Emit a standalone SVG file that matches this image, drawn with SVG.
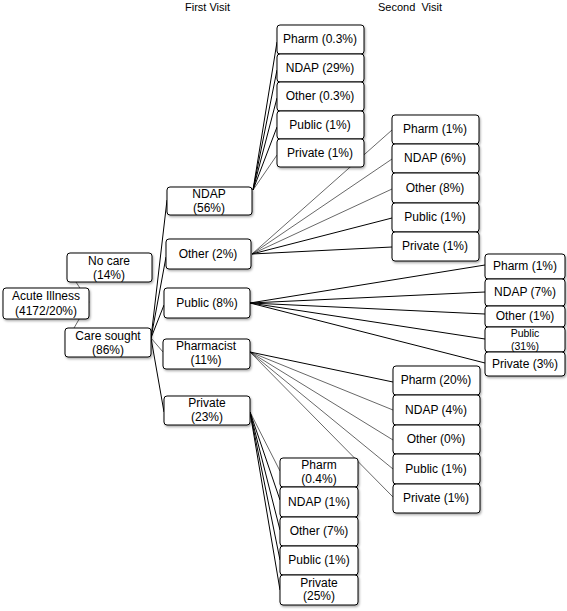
<svg xmlns="http://www.w3.org/2000/svg" width="567" height="611" viewBox="0 0 567 611">
<defs>
<filter id="sh" x="-10%" y="-10%" width="130%" height="140%">
<feDropShadow dx="1" dy="1.5" stdDeviation="1" flood-color="#000" flood-opacity="0.35"/>
</filter>
</defs>
<style>
rect{fill:#fff;stroke:#000;stroke-width:1;filter:url(#sh)}
text{font-family:"Liberation Sans",Arial,sans-serif;font-size:12px;fill:#000;text-anchor:middle}
.h{font-size:11px;text-anchor:start}
.s{font-size:10.5px}
#conn line{stroke:#000;stroke-width:1}
#conn .t{stroke-width:0.6}
</style>
<rect width="567" height="611" style="fill:#fff;stroke:none;filter:none"/>
<text class="h" x="185" y="11">First Visit</text>
<text class="h" x="378" y="11" xml:space="preserve">Second  Visit</text>
<g id="conn">
<line x1="76" y1="282" x2="89" y2="302" class="t"/>
<line x1="89" y1="302" x2="74" y2="328" class="t"/>
<line x1="151" y1="338" x2="167" y2="200"/>
<line x1="151" y1="338" x2="166" y2="257"/>
<line x1="151" y1="338" x2="164" y2="305"/>
<line x1="151" y1="338" x2="163" y2="352" class="t"/>
<line x1="151" y1="338" x2="164" y2="412"/>
<line x1="253" y1="190" x2="277" y2="42"/>
<line x1="253" y1="190" x2="277" y2="70"/>
<line x1="253" y1="190" x2="277" y2="98"/>
<line x1="253" y1="190" x2="277" y2="127"/>
<line x1="253" y1="190" x2="277" y2="155" class="t"/>
<line x1="252" y1="254" x2="392" y2="130" class="t"/>
<line x1="252" y1="254" x2="392" y2="159" class="t"/>
<line x1="252" y1="254" x2="392" y2="189" class="t"/>
<line x1="252" y1="254" x2="392" y2="218"/>
<line x1="252" y1="254" x2="392" y2="247"/>
<line x1="250" y1="303" x2="485" y2="265"/>
<line x1="250" y1="303" x2="485" y2="292"/>
<line x1="250" y1="303" x2="485" y2="314"/>
<line x1="250" y1="303" x2="485" y2="339"/>
<line x1="250" y1="303" x2="485" y2="363"/>
<line x1="250" y1="352" x2="393" y2="382"/>
<line x1="250" y1="352" x2="393" y2="410" class="t"/>
<line x1="250" y1="352" x2="393" y2="440" class="t"/>
<line x1="250" y1="352" x2="393" y2="469" class="t"/>
<line x1="250" y1="352" x2="393" y2="497" class="t"/>
<line x1="250" y1="412" x2="280" y2="471" class="t"/>
<line x1="250" y1="412" x2="280" y2="500"/>
<line x1="250" y1="412" x2="280" y2="530"/>
<line x1="250" y1="412" x2="280" y2="560"/>
<line x1="250" y1="412" x2="280" y2="590"/>
</g>
<g id="acute"><rect x="3" y="288" width="86" height="31" rx="3"/><text x="46" y="300">Acute Illness</text><text x="46" y="315">(4172/20%)</text></g>
<g id="nocare"><rect x="67" y="253" width="85" height="29" rx="3"/><text x="109" y="265">No care</text><text x="109" y="279">(14%)</text></g>
<g id="caresought"><rect x="65" y="328" width="86" height="29" rx="3"/><text x="108" y="340">Care sought</text><text x="108" y="354">(86%)</text></g>

<g id="f-ndap"><rect x="167" y="187" width="85" height="28" rx="3"/><text x="209" y="198">NDAP</text><text x="209" y="212">(56%)</text></g>
<g id="f-other"><rect x="166" y="239" width="85" height="30" rx="3"/><text x="208" y="258">Other (2%)</text></g>
<g id="f-public"><rect x="164" y="288" width="86" height="30" rx="3"/><text x="207" y="307">Public (8%)</text></g>
<g id="f-pharm"><rect x="163" y="339" width="87" height="30" rx="3"/><text x="206" y="350">Pharmacist</text><text x="206" y="364">(11%)</text></g>
<g id="f-private"><rect x="164" y="396" width="86" height="29" rx="3"/><text x="207" y="407">Private</text><text x="207" y="421">(23%)</text></g>

<g id="n-pharm"><rect x="277" y="25" width="87" height="29" rx="3"/><text x="320" y="43">Pharm (0.3%)</text></g>
<g id="n-ndap"><rect x="277" y="54" width="87" height="28" rx="3"/><text x="320" y="72">NDAP (29%)</text></g>
<g id="n-other"><rect x="277" y="82" width="87" height="29" rx="3"/><text x="320" y="100">Other (0.3%)</text></g>
<g id="n-public"><rect x="277" y="111" width="87" height="28" rx="3"/><text x="320" y="129">Public (1%)</text></g>
<g id="n-private"><rect x="277" y="139" width="87" height="28" rx="3"/><text x="320" y="157">Private (1%)</text></g>

<g id="o-pharm"><rect x="392" y="115" width="87" height="29" rx="3"/><text x="435" y="133">Pharm (1%)</text></g>
<g id="o-ndap"><rect x="392" y="144" width="87" height="29" rx="3"/><text x="435" y="162">NDAP (6%)</text></g>
<g id="o-other"><rect x="392" y="173" width="87" height="30" rx="3"/><text x="435" y="192">Other (8%)</text></g>
<g id="o-public"><rect x="392" y="203" width="87" height="29" rx="3"/><text x="435" y="221">Public (1%)</text></g>
<g id="o-private"><rect x="392" y="232" width="87" height="29" rx="3"/><text x="435" y="250">Private (1%)</text></g>

<g id="p-pharm"><rect x="485" y="254" width="80" height="25" rx="3"/><text x="525" y="270">Pharm (1%)</text></g>
<g id="p-ndap"><rect x="485" y="279" width="80" height="27" rx="3"/><text x="525" y="296">NDAP (7%)</text></g>
<g id="p-other"><rect x="485" y="306" width="80" height="21" rx="3"/><text x="525" y="320">Other (1%)</text></g>
<g id="p-public"><rect x="485" y="327" width="80" height="25" rx="3"/><text class="s" x="525" y="337">Public</text><text class="s" x="525" y="349.5">(31%)</text></g>
<g id="p-private"><rect x="485" y="352" width="80" height="24" rx="3"/><text x="525" y="368">Private (3%)</text></g>

<g id="ph-pharm"><rect x="393" y="366" width="87" height="29" rx="3"/><text x="436" y="384">Pharm (20%)</text></g>
<g id="ph-ndap"><rect x="393" y="395" width="87" height="30" rx="3"/><text x="436" y="414">NDAP (4%)</text></g>
<g id="ph-other"><rect x="393" y="425" width="87" height="29" rx="3"/><text x="436" y="443">Other (0%)</text></g>
<g id="ph-public"><rect x="393" y="454" width="87" height="30" rx="3"/><text x="436" y="473">Public (1%)</text></g>
<g id="ph-private"><rect x="393" y="484" width="87" height="29" rx="3"/><text x="436" y="502">Private (1%)</text></g>

<g id="r-pharm"><rect x="280" y="458" width="78" height="29" rx="3"/><text x="319" y="469">Pharm</text><text x="319" y="483">(0.4%)</text></g>
<g id="r-ndap"><rect x="280" y="487" width="78" height="30" rx="3"/><text x="319" y="506">NDAP (1%)</text></g>
<g id="r-other"><rect x="280" y="517" width="78" height="29" rx="3"/><text x="319" y="535">Other (7%)</text></g>
<g id="r-public"><rect x="280" y="546" width="78" height="29" rx="3"/><text x="319" y="564">Public (1%)</text></g>
<g id="r-private"><rect x="280" y="575" width="78" height="30" rx="3"/><text x="319" y="587">Private</text><text x="319" y="600">(25%)</text></g>
</svg>
